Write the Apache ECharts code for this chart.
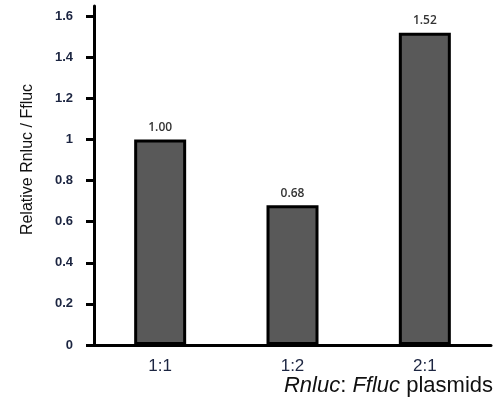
<!DOCTYPE html>
<html>
<head>
<meta charset="utf-8">
<script src="https://cdn.jsdelivr.net/npm/echarts@6/dist/echarts.min.js"></script>
<style>html,body{margin:0;padding:0;background:#fff;}#c{width:497px;height:404px;}</style>
</head>
<body>
<div id="c"></div>
<script>
const categories = ['1:1', '1:2', '2:1'];
const values = [1.00, 0.68, 1.52];
const yTicks = [0, 0.2, 0.4, 0.6, 0.8, 1, 1.2, 1.4, 1.6];

const chart = echarts.init(document.getElementById('c'));
chart.setOption({
  animation: false,
  grid: { left: 94, right: 6, top: 6, bottom: 59 },
  xAxis: {
    type: 'category',
    data: categories,
    axisLine: { lineStyle: { color: '#000', width: 3 } },
    axisTick: { show: false },
    axisLabel: { color: '#1c2541', fontSize: 17, margin: 13, fontFamily: 'Liberation Sans' },
    name: '{i|Rnluc}{n|: }{i|Ffluc}{n| plasmids}',
    nameLocation: 'end',
    nameGap: 2,
    nameTextStyle: {
      align: 'right', verticalAlign: 'top', padding: [30, 0, 0, 0],
      rich: {
        i: { fontStyle: 'italic', fontSize: 22, color: '#111', fontFamily: 'Liberation Sans' },
        n: { fontSize: 22, color: '#111', fontFamily: 'Liberation Sans' }
      }
    }
  },
  yAxis: {
    type: 'value',
    min: 0,
    max: 1.65,
    splitLine: { show: false },
    axisLine: { show: true, lineStyle: { color: '#000', width: 3 } },
    axisTick: { show: true, length: 8, lineStyle: { color: '#000', width: 3 }, customValues: yTicks },
    axisLabel: { color: '#1c2541', fontSize: 13, fontWeight: 'bold', margin: 21, fontFamily: 'Liberation Sans', customValues: yTicks },
    name: 'Relative Rnluc / Ffluc',
    nameLocation: 'middle',
    nameGap: 58,
    nameTextStyle: { fontSize: 16, color: '#111', fontFamily: 'Liberation Sans', padding: [0, 0, 0, 32] }
  },
  series: [{
    type: 'bar',
    data: values,
    barWidth: 52,
    itemStyle: { color: '#595959', borderColor: '#000', borderWidth: 3 },
    label: {
      show: true, position: 'top', distance: 6,
      fontSize: 12, fontWeight: 600, color: '#333', fontFamily: 'Open Sans',
      formatter: p => p.value.toFixed(2)
    }
  }]
});
</script>
</body>
</html>
